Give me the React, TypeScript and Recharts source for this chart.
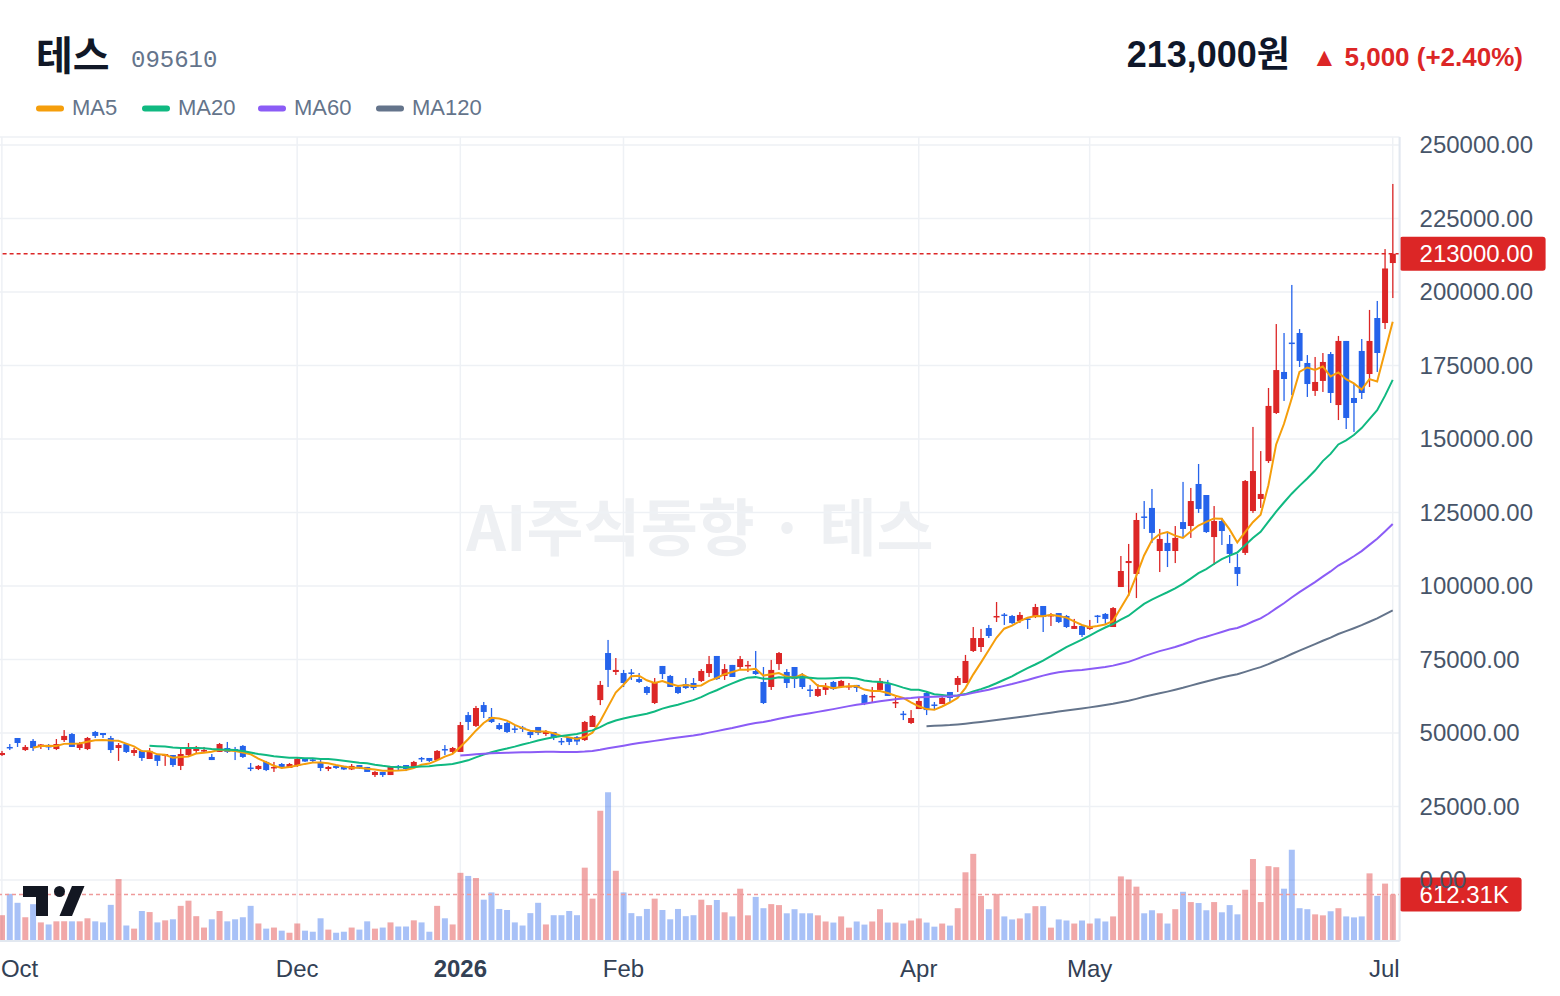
import React from 'react';
import { ComposedChart, Bar, Line, XAxis, YAxis, CartesianGrid, ReferenceLine, Cell } from 'recharts';

// ---- data ----
const opens = [
  42500,45250,48300,44200,47300,45250,45600,44550,47600,49650,
  44900,44550,50350,50000,48300,44900,46250,43200,43900,41150,
  42500,42200,42500,38800,42500,43900,44000,41850,43550,44900,
  44550,45600,38250,37750,40150,38100,39450,38100,38800,41500,
  41000,40150,37750,38800,38800,37600,39100,38450,35700,36750,
  35700,38800,39100,38450,41500,41500,40800,44550,43550,43550,
  56100,52400,59500,55450,52700,53400,51550,51850,50350,52050,
  49650,50350,47300,48650,48650,47600,52050,61200,77200,70750,
  70400,70600,68350,65650,60200,72800,69400,65650,66650,67000,
  67700,70400,76200,69400,73150,72450,72800,71100,67350,65650,
  73450,70750,72450,69400,64800,62600,64650,67350,65650,65650,
  66350,62950,62250,64650,66650,60200,56600,53400,58150,63600,
  59700,59850,63950,66350,67000,77900,79250,85700,89450,90300,
  89800,88100,88950,89450,93200,89800,90800,89800,85400,86400,
  85400,89950,90500,86050,99650,107800,104100,123650,126550,111900,
  114650,111900,121750,120400,134700,130950,116650,122100,114300,106450,
  111250,125500,129600,142500,158850,172800,182800,186050,175850,166350,
  169750,178900,161550,183350,163950,179950,172100,191150,189450,209850,
];
const highs = [
  43900,46250,48300,45900,47950,46250,46250,47950,51000,50000,
  46950,48650,50700,50000,49000,46600,46250,44900,44200,44900,
  42500,42850,42500,44900,46600,45600,45250,42850,46600,46950,
  45250,45900,39800,39100,40500,40150,39800,39800,41500,41500,
  41500,40800,38800,38800,38800,39450,39100,38450,37050,36750,
  38450,39100,39100,40500,41850,41500,44200,45900,45250,53750,
  57150,59200,60550,58500,53400,53750,52700,52400,51000,52050,
  51000,50350,48300,48650,49000,54100,56100,67700,81650,75500,
  71450,71750,70400,66000,68700,72800,69750,66350,68700,68700,
  71750,76200,76200,73450,73150,76200,74500,77900,72450,74850,
  77550,71750,72450,70400,66350,66650,67000,67700,68050,67000,
  66350,63250,65650,68700,68050,62250,57500,57800,62250,63950,
  60550,62600,63950,69400,76550,86050,85400,86750,94550,90800,
  90150,91150,89450,93900,93200,90800,90800,90150,88800,86750,
  88450,90150,90800,92850,110200,114300,124850,128900,133000,119400,
  118350,120400,135400,133350,141500,130950,127200,123150,117350,110900,
  136050,154100,145900,167350,189100,186050,202400,187400,178550,177900,
  179250,179600,185050,183350,169050,184000,193900,196950,214600,236750,
];
const lows = [
  42200,44200,45250,43900,43900,44550,44200,44200,46950,45250,
  44200,44200,48300,48300,43200,40500,43200,42200,40500,41150,
  38800,38800,38450,37400,42200,43200,43200,40800,43550,43200,
  40800,41500,37050,37400,37050,36750,37750,38100,38450,40150,
  39800,37050,37050,37750,37400,37400,37750,36750,35050,35050,
  35700,37400,37050,38450,40150,40150,40800,42500,43200,43550,
  51000,52050,55100,53400,51000,50000,50000,50350,48300,49300,
  49000,47600,45900,45900,45900,47300,52050,59500,65650,69750,
  65650,68050,67000,62950,59850,68350,65650,63250,64950,64650,
  67350,69050,68050,68050,69050,71450,70750,69750,59850,64650,
  71450,65300,65300,64950,62250,62250,62950,64650,65300,64650,
  63950,59500,60200,63950,62600,58500,54400,53050,58150,56100,
  57800,59850,60550,63950,67000,77550,77550,82300,87750,86750,
  87100,87400,85400,89100,84350,86400,87400,85700,85400,82650,
  85050,87400,86750,86050,99650,96600,95900,119400,114650,104750,
  106450,107800,116650,116350,124850,118050,107150,113950,107800,100000,
  110550,124850,126550,141850,158500,162950,164950,174500,164300,164650,
  166000,162250,156450,153400,152400,163600,167700,172800,187400,197950,
];
const closes = [
  43200,45050,46600,45250,44900,46100,45250,46250,49000,45250,
  46250,48300,49000,49300,44200,45900,43550,44200,41500,43900,
  40500,42850,39100,42850,44900,45250,44200,40800,46250,43550,
  44400,41850,37900,38800,37400,38450,38100,39450,41150,40300,
  40650,38100,38450,38100,37600,38800,37950,36750,36750,35700,
  38450,38450,37750,40150,41150,40500,43900,44050,44900,52700,
  53750,58500,57150,53750,51350,50350,51200,51550,49300,50000,
  50350,48300,46950,46950,47100,53750,55800,66350,71450,71450,
  67000,70250,67350,63600,67000,70050,65650,63600,65300,65300,
  71100,73450,68350,71750,69050,75150,73150,70050,60200,71450,
  77200,67000,68350,65650,64450,64950,66000,64950,67700,66000,
  65300,59850,62600,67700,62600,60550,56300,55100,60900,57800,
  59350,61900,61900,68700,74500,82300,82300,83000,89800,89950,
  87400,90150,88600,92850,89450,90150,87750,86050,86400,83350,
  86400,89600,88800,92500,105100,108500,122450,123300,118050,116000,
  111900,116350,119400,128900,126200,118350,122100,118700,110900,104100,
  135700,139100,131300,161250,173450,170400,182500,176550,168700,169400,
  176200,165650,183350,157150,162250,165650,183350,179250,208000,213000,
];
const volumesK = [
  340,621,503,313,485,245,218,259,259,259,
  259,299,259,245,476,816,204,163,395,381,
  245,272,286,463,531,327,177,286,395,259,
  286,313,463,231,163,177,136,109,231,136,
  122,299,150,109,122,177,150,259,163,177,
  245,191,191,272,245,122,463,299,218,898,
  857,830,544,640,422,408,245,204,367,503,
  218,340,340,395,340,966,558,1715,1960,925,
  640,367,327,422,558,408,286,422,327,340,
  544,473,540,378,324,689,338,581,432,486,
  473,365,419,365,365,338,257,243,324,176,
  257,216,257,419,243,243,230,270,297,243,
  189,230,203,432,905,1148,594,419,621,324,
  284,297,365,459,459,176,284,270,230,270,
  230,297,257,324,851,810,716,365,405,365,
  230,419,648,513,500,405,513,378,473,351,
  675,1080,513,986,972,689,1202,432,419,351,
  338,392,432,324,311,324,891,594,756,612.31,
];
const monthTickIdx = [0, 38, 59, 80, 118, 140, 179];
const monthTickLabels = ['Oct', 'Dec', '2026', 'Feb', 'Apr', 'May', 'Jul'];
const priceTicks = [0, 25000, 50000, 75000, 100000, 125000, 150000, 175000, 200000, 225000, 250000];
const maPeriods = [5, 20, 60, 120];
const maNames = ['MA5', 'MA20', 'MA60', 'MA120'];
const maColors = ['#f59e0b', '#10b981', '#8b5cf6', '#64748b'];
const stockName = '테스';
const stockCode = '095610';
const lastPrice = 213000;
const prevClose = 208000;
const lastVolumeK = 612.31;

const UP = '#dc2626';
const DOWN = '#2563eb';
const GRID = '#eef1f5';
const FONT = '"Liberation Sans", Arial, "Noto Sans CJK KR", sans-serif';

const movingAvg = (n: number) =>
  closes.map((_, i) => (i < n - 1 ? null : closes.slice(i - n + 1, i + 1).reduce((a, b) => a + b, 0) / n));
const maSeries = maPeriods.map(movingAvg);

const data = closes.map((c, i) => {
  const row: any = { i, open: opens[i], high: highs[i], low: lows[i], close: c, vol: volumesK[i] };
  maPeriods.forEach((p, k) => { row['ma' + p] = maSeries[k][i]; });
  return row;
});

const Candle = (props: any) => {
  const { x, y, width, height, payload } = props;
  if (!payload || height == null || isNaN(y)) return null;
  const { open, close, high, low } = payload;
  const px = (p: number) => y + ((high - p) / (high - low)) * height;
  const color = close >= open ? UP : DOWN;
  const cx = x + width / 2;
  const top = px(Math.max(open, close));
  const bot = px(Math.min(open, close));
  const bh = Math.max(1.5, bot - top);
  const bw = 6;
  return (
    <g>
      <rect x={cx - 0.65} y={y} width={1.3} height={height} fill={color} />
      <rect x={cx - bw / 2} y={top} width={bw} height={bh} fill={color} />
    </g>
  );
};

const TimeTick = (props: any) => {
  const { x, y, payload } = props;
  const k = monthTickIdx.indexOf(payload.value);
  if (k < 0) return null;
  const label = monthTickLabels[k];
  const first = k === 0;
  const last = k === monthTickIdx.length - 1;
  return (
    <text
      x={first ? x - 1 : last ? x + 7 : x}
      y={y + 28.5}
      textAnchor={first ? 'start' : last ? 'end' : 'middle'}
      fontSize={24}
      fontWeight={label === '2026' ? 700 : 400}
      fill="#334155"
      fontFamily={FONT}
    >
      {label}
    </text>
  );
};

const PriceTick = (props: any) => {
  const { x, y, payload } = props;
  return (
    <text x={x + 12} y={y} dy="0.35em" textAnchor="start" fontSize={24} fill="#475569" fontFamily={FONT}>
      {Number(payload.value).toFixed(2)}
    </text>
  );
};

const Tag = (props: any) => {
  const { viewBox, text, w } = props;
  if (!viewBox) return null;
  const left = viewBox.x + viewBox.width;
  const y = viewBox.y;
  return (
    <g>
      <rect x={left} y={y - 17} width={w} height={34} rx={3} fill={UP} />
      <text x={left + 20} y={y} dy="0.35em" fontSize={24} fill="#ffffff" fontFamily={FONT}>
        {text}
      </text>
    </g>
  );
};

const legendX = [36, 142, 258, 376];
const TOP_PAD = 20;

export default function App() {
  const change = lastPrice - prevClose;
  const pct = (change / prevClose) * 100;
  return (
    <div style={{ position: 'absolute', left: 0, top: 0, width: 1560, height: 996, background: '#ffffff', overflow: 'hidden', fontFamily: FONT }}>
      <svg width={1560} height={996} style={{ position: 'absolute', left: 0, top: 0 }}>
        <text x={700} y={551} textAnchor="middle" fontSize={62} fontWeight={700} fill="#eef0f3" fontFamily='"Noto Sans CJK KR", sans-serif'>
          {'AI주식동향 · ' + stockName}
        </text>
      </svg>
      <div style={{ position: 'absolute', left: -1.6, top: 137 - TOP_PAD }}>
        <ComposedChart width={1561.6} height={859 + TOP_PAD} data={data} margin={{ top: TOP_PAD, right: 0, bottom: 0, left: 0 }} barGap={-6}>
          <CartesianGrid yAxisId="price" stroke={GRID} strokeWidth={1.5} />
          <XAxis
            dataKey="i"
            type="category"
            height={55}
            ticks={monthTickIdx}
            interval={0}
            tickLine={false}
            axisLine={{ stroke: '#e2e8f0', strokeWidth: 2 }}
            padding={{ left: 0, right: 3 }}
            tick={<TimeTick />}
          />
          <YAxis
            yAxisId="price"
            orientation="right"
            width={160}
            type="number"
            domain={[-20750, 252720]}
            ticks={priceTicks}
            allowDataOverflow
            tickLine={false}
            axisLine={{ stroke: '#e2e8f0', strokeWidth: 2 }}
            tick={<PriceTick />}
          />
          <YAxis yAxisId="vol" hide type="number" domain={[0, 10590]} allowDataOverflow />
          <Bar yAxisId="vol" dataKey="vol" barSize={6} isAnimationActive={false}>
            {data.map((d, i) => (
              <Cell key={i} fill={d.close >= d.open ? UP : DOWN} fillOpacity={0.4} />
            ))}
          </Bar>
          <Bar yAxisId="price" dataKey={(d: any) => [d.low, d.high]} barSize={6} isAnimationActive={false} shape={<Candle />} />
          {maPeriods.map((p, k) => (
            <Line
              key={p}
              yAxisId="price"
              type="linear"
              dataKey={'ma' + p}
              stroke={maColors[k]}
              strokeWidth={2}
              dot={false}
              activeDot={false}
              isAnimationActive={false}
            />
          ))}
          <ReferenceLine
            yAxisId="vol"
            y={lastVolumeK}
            stroke="#ef9a9a"
            strokeDasharray="4 3"
            strokeWidth={1.5}
            label={<Tag text={lastVolumeK.toFixed(2) + 'K'} w={122} />}
          />
          <ReferenceLine
            yAxisId="price"
            y={lastPrice}
            stroke={UP}
            strokeDasharray="4 3"
            strokeWidth={1.5}
            label={<Tag text={lastPrice.toFixed(2)} w={146} />}
          />
        </ComposedChart>
      </div>
      <svg width={1560} height={996} style={{ position: 'absolute', left: 0, top: 0, pointerEvents: 'none' }}>
        <text x={36} y={70} fontSize={40} fontWeight={700} fill="#111827" fontFamily='"Noto Sans CJK KR", sans-serif'>
          {stockName}
        </text>
        <text x={131} y={67} fontSize={24} fill="#64748b" fontFamily='"Liberation Mono", monospace'>
          {stockCode}
        </text>
        <text x={1290} y={67} textAnchor="end" fontSize={36} fontWeight={700} fill="#0f172a" fontFamily={FONT}>
          {lastPrice.toLocaleString('en-US') + '원'}
        </text>
        <text x={1523} y={66} textAnchor="end" fontSize={26} fontWeight={700} fill={UP} fontFamily={FONT}>
          {'▲ ' + change.toLocaleString('en-US') + ' (+' + pct.toFixed(2) + '%)'}
        </text>
        {maNames.map((n, k) => (
          <g key={n}>
            <rect x={legendX[k]} y={105.5} width={28} height={6} rx={3} fill={maColors[k]} />
            <text x={legendX[k] + 36} y={115} fontSize={22} fill="#64748b" fontFamily={FONT}>
              {n}
            </text>
          </g>
        ))}
        <g fill="#131722">
          <rect x={23} y={886} width={25} height={11} />
          <rect x={36} y={886} width={12} height={30} />
          <circle cx={59.5} cy={891.5} r={5.5} />
          <polygon points="72,886 84.5,886 72,916 59.5,916" />
        </g>
      </svg>
    </div>
  );
}
